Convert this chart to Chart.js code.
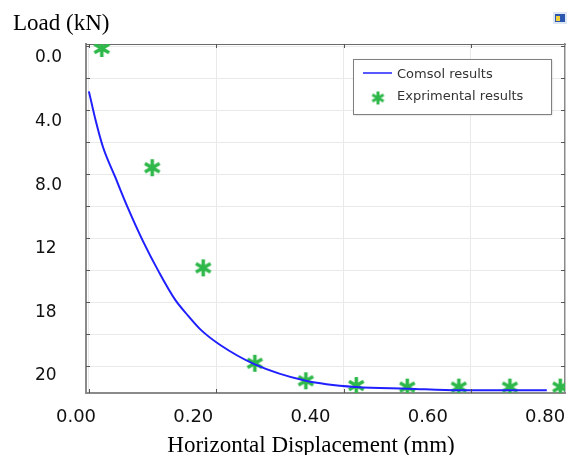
<!DOCTYPE html>
<html>
<head>
<meta charset="utf-8">
<script src="https://cdn.jsdelivr.net/npm/chart.js@4.4.1/dist/chart.umd.min.js"></script>
<style>
  html, body { margin: 0; padding: 0; background: #fff; }
  canvas { display: block; }
</style>
</head>
<body>
<canvas id="loadChart" width="568" height="455"></canvas>
<script>
// --------------- data ---------------
const xTickValues = [0, 0.2, 0.4, 0.6, 0.8];
const xTickLabels = ['0.00', '0.20', '0.40', '0.60', '0.80'];
const yTickValues = [0, 4, 8, 12, 16, 20];
const yTickLabels = ['0.0', '4.0', '8.0', '12', '18', '20'];

// COMSOL curve
const comsolX = [0.022, 0.034, 0.046, 0.067, 0.087, 0.114, 0.142, 0.169, 0.191, 0.213, 0.246, 0.304, 0.392, 0.478, 0.566, 0.655, 0.803];
const comsolY = [2.1, 4.0, 5.6, 7.5, 9.3, 11.5, 13.5, 15.2, 16.2, 17.1, 18.05, 19.25, 20.3, 20.7, 20.8, 20.9, 20.9];

// experimental points
const expX = [0.044, 0.130, 0.217, 0.305, 0.392, 0.478, 0.565, 0.653, 0.740, 0.826];
const expY = [-0.6, 6.9, 13.2, 19.2, 20.3, 20.6, 20.7, 20.7, 20.7, 20.7];

const seriesLabels = ['Comsol results', 'Exprimental results'];
const xTitle = 'Horizontal Displacement (mm)';
const yTitle = 'Load (kN)';

const BLUE  = '#2020ff';
const GREEN = '#2fb84a';

// 6-arm asterisk used as point style
function makeStar(color, size, width) {
  const c = document.createElement('canvas');
  c.width = size; c.height = size;
  const g = c.getContext('2d');
  const m = size / 2, r = size / 2 - 1;
  g.strokeStyle = color;
  g.lineWidth = width;
  g.beginPath();
  for (let i = 0; i < 3; i++) {
    const a = Math.PI / 2 + i * Math.PI / 3;
    g.moveTo(m + r * Math.cos(a), m - r * Math.sin(a));
    g.lineTo(m - r * Math.cos(a), m + r * Math.sin(a));
  }
  g.stroke();
  return c;
}
const star = makeStar(GREEN, 19, 3.5);
const smallStar = makeStar(GREEN, 15, 3);

// scales that must not reserve room for labels or padding
const noPad = s => { s.paddingLeft = 0; s.paddingRight = 0; s.paddingTop = 0; s.paddingBottom = 0; };

// --------------- extras: inward ticks, legend, titles ---------------
const decor = {
  id: 'decor',
  afterDraw(chart) {
    const { ctx, chartArea: a, scales } = chart;
    ctx.save();

    // inward tick marks on all four sides
    ctx.strokeStyle = '#555';
    ctx.lineWidth = 1;
    ctx.beginPath();
    scales.yg.ticks.forEach(t => {
      const p = Math.round(scales.yg.getPixelForValue(t.value)) + 0.5;
      ctx.moveTo(a.left, p);  ctx.lineTo(a.left + 4, p);
      ctx.moveTo(a.right, p); ctx.lineTo(a.right - 4, p);
    });
    scales.xg.ticks.forEach(t => {
      const p = Math.round(scales.xg.getPixelForValue(t.value)) + 0.5;
      ctx.moveTo(p, a.top);    ctx.lineTo(p, a.top + 4);
      ctx.moveTo(p, a.bottom); ctx.lineTo(p, a.bottom - 4);
    });
    ctx.stroke();

    // legend box
    const lx = 353, ly = 59, lw = 198, lh = 55;
    ctx.shadowColor = 'rgba(0,0,0,0.25)';
    ctx.shadowBlur = 2;
    ctx.shadowOffsetX = 1;
    ctx.shadowOffsetY = 1;
    ctx.fillStyle = '#fff';
    ctx.fillRect(lx, ly, lw, lh);
    ctx.shadowColor = 'transparent';
    ctx.strokeStyle = '#808080';
    ctx.strokeRect(lx + 0.5, ly + 0.5, lw, lh);

    ctx.strokeStyle = BLUE;
    ctx.globalAlpha = 0.75;
    ctx.lineWidth = 2;
    ctx.beginPath();
    ctx.moveTo(lx + 10, ly + 14);
    ctx.lineTo(lx + 39, ly + 14);
    ctx.stroke();
    ctx.globalAlpha = 1;
    ctx.drawImage(smallStar, lx + 25 - 7.5, ly + 39 - 7.5);

    ctx.fillStyle = '#333';
    ctx.font = '13px "DejaVu Sans"';
    ctx.textBaseline = 'middle';
    ctx.textAlign = 'left';
    ctx.fillText(seriesLabels[0], lx + 44, ly + 16);
    ctx.fillText(seriesLabels[1], lx + 44, ly + 38);

    // axis titles
    ctx.fillStyle = '#000';
    ctx.font = '23px "Liberation Serif"';
    ctx.textBaseline = 'alphabetic';
    ctx.fillText(yTitle, 13, 30);
    ctx.textAlign = 'center';
    ctx.fillText(xTitle, 311, 452);

    // small window icon, top right
    ctx.fillStyle = '#dde6f3';
    ctx.fillRect(553, 12, 14, 12);
    ctx.fillStyle = '#2a56b0';
    ctx.fillRect(555, 14, 10, 8);
    ctx.fillStyle = '#f2d23a';
    ctx.fillRect(556, 16, 4, 5);

    ctx.restore();
  }
};

new Chart(document.getElementById('loadChart'), {
  type: 'line',
  data: {
    datasets: [
      {
        label: seriesLabels[0],
        data: comsolX.map((x, i) => ({ x, y: comsolY[i] })),
        borderColor: BLUE,
        borderWidth: 2,
        pointRadius: 0,
        fill: false,
        cubicInterpolationMode: 'monotone',
      },
      {
        label: seriesLabels[1],
        data: expX.map((x, i) => ({ x, y: expY[i] })),
        showLine: false,
        pointStyle: star,
        pointRadius: 9,
        borderColor: GREEN,
        backgroundColor: GREEN,
      },
    ],
  },
  options: {
    responsive: false,
    animation: false,
    layout: { autoPadding: false, padding: { left: 35, right: 3, top: 44, bottom: 0 } },
    plugins: { legend: { display: false }, tooltip: { enabled: false } },
    scales: {
      x: {
        type: 'linear',
        position: 'bottom',
        min: 0.01706,
        max: 0.834,
        afterBuildTicks: s => { s.ticks = xTickValues.map(v => ({ value: v })); },
        afterFit: s => { s.height = 62; noPad(s); },
        grid: { display: false, drawTicks: false },
        border: { color: '#8a8a8a', width: 2 },
        ticks: {
          autoSkip: false,
          maxRotation: 0,
          padding: 14,
          color: '#111',
          font: { family: 'DejaVu Sans', size: 18 },
          callback: (v, i) => xTickLabels[i],
        },
      },
      y: {
        type: 'linear',
        position: 'left',
        reverse: true,
        min: -0.88,
        max: 21.07,
        afterBuildTicks: s => { s.ticks = yTickValues.map(v => ({ value: v })); },
        afterFit: s => { s.width = 51; noPad(s); },
        grid: { display: false, drawTicks: false },
        border: { color: '#8a8a8a', width: 2 },
        ticks: {
          autoSkip: false,
          crossAlign: 'far',
          color: '#111',
          font: { family: 'DejaVu Sans', size: 17 },
          callback: (v, i) => yTickLabels[i],
        },
      },
      // grid of the underlying plot
      xg: {
        type: 'linear',
        position: 'top',
        min: -0.0047,
        max: 0.748,
        afterFit: s => { s.height = 0; noPad(s); },
        grid: { color: '#e9e9e9', drawTicks: false },
        border: { color: '#6a6a6a', width: 1 },
        ticks: { display: false, stepSize: 0.2, includeBounds: false },
      },
      yg: {
        type: 'linear',
        position: 'right',
        reverse: true,
        min: -0.0625,
        max: 10.84,
        afterFit: s => { s.width = 0; noPad(s); },
        grid: { color: '#e9e9e9', drawTicks: false },
        border: { color: '#8a8a8a', width: 1.5 },
        ticks: { display: false, stepSize: 1, includeBounds: false },
      },
    },
  },
  plugins: [decor],
});
</script>
</body>
</html>
